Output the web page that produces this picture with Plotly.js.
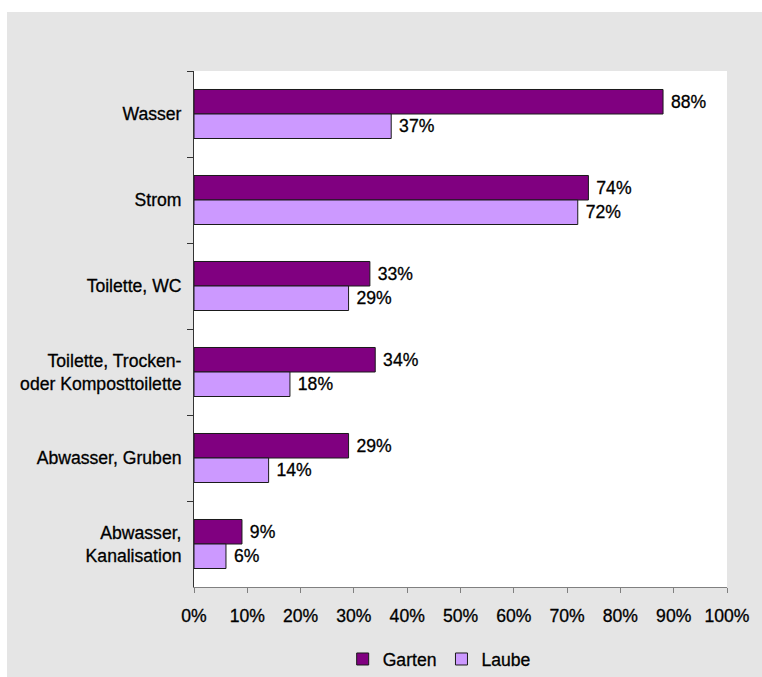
<!DOCTYPE html>
<html>
<head>
<meta charset="utf-8">
<script src="https://cdn.plot.ly/plotly-3.0.1.min.js"></script>
<style>
html,body{margin:0;padding:0;background:#ffffff;}
#chart{position:absolute;left:7px;top:12px;width:755px;height:665px;}
#chart text{stroke:#000000;stroke-width:0.3px;}
</style>
</head>
<body>
<div id="chart"></div>
<script>
var categories = ["Wasser", "Strom", "Toilette, WC", "Toilette, Trocken-<br>oder Komposttoilette", "Abwasser, Gruben", "Abwasser,<br>Kanalisation"];
var garten = [0.88, 0.74, 0.33, 0.34, 0.29, 0.09];
var laube = [0.37, 0.72, 0.29, 0.18, 0.14, 0.06];
var seriesNames = ["Garten", "Laube"];
var xTickVals = [0, 0.1, 0.2, 0.3, 0.4, 0.5, 0.6, 0.7, 0.8, 0.9, 1.0];
var xTickText = ["0%", "10%", "20%", "30%", "40%", "50%", "60%", "70%", "80%", "90%", "100%"];

var FONT = {family: "Liberation Sans, Arial, sans-serif", size: 17.6, color: "#000000"};

var traces = [
  {type: "bar", orientation: "h", name: seriesNames[0], y: categories, x: garten,
   texttemplate: "\u00a0%{x:.0%}", textposition: "outside", cliponaxis: false,
   textfont: FONT, hoverinfo: "none",
   marker: {color: "#800080", line: {color: "#1a1a1a", width: 1}}},
  {type: "bar", orientation: "h", name: seriesNames[1], y: categories, x: laube,
   texttemplate: "\u00a0%{x:.0%}", textposition: "outside", cliponaxis: false,
   textfont: FONT, hoverinfo: "none",
   marker: {color: "#cc99ff", line: {color: "#1a1a1a", width: 1}}}
];

var layout = {
  width: 755, height: 665,
  margin: {l: 187, r: 35, t: 59, b: 90, pad: 0},
  paper_bgcolor: "#e5e5e5",
  plot_bgcolor: "#ffffff",
  font: FONT,
  barmode: "group",
  bargap: 0.43,
  bargroupgap: 0,
  showlegend: true,
  legend: {orientation: "h", xref: "paper", x: 0.46, xanchor: "center",
           yref: "container", y: 0.027, yanchor: "middle",
           font: FONT, bgcolor: "rgba(0,0,0,0)", traceorder: "normal"},
  xaxis: {range: [0, 1], tickvals: xTickVals, ticktext: xTickText, showgrid: false, zeroline: false,
          showline: true, linecolor: "#808080", linewidth: 1,
          ticks: "outside", ticklen: 5, tickcolor: "#808080", tickwidth: 1,
          ticklabelstandoff: 8, tickfont: FONT, fixedrange: true, automargin: false},
  yaxis: {type: "category", autorange: "reversed", showgrid: false, zeroline: false,
          showline: true, linecolor: "#333333", linewidth: 1,
          ticks: "outside", ticklen: 6, tickcolor: "#333333", tickwidth: 1,
          tickson: "boundaries", ticklabelstandoff: 8, tickfont: FONT, fixedrange: true, automargin: false}
};

Plotly.newPlot("chart", traces, layout, {displayModeBar: false, staticPlot: true});
</script>
</body>
</html>
